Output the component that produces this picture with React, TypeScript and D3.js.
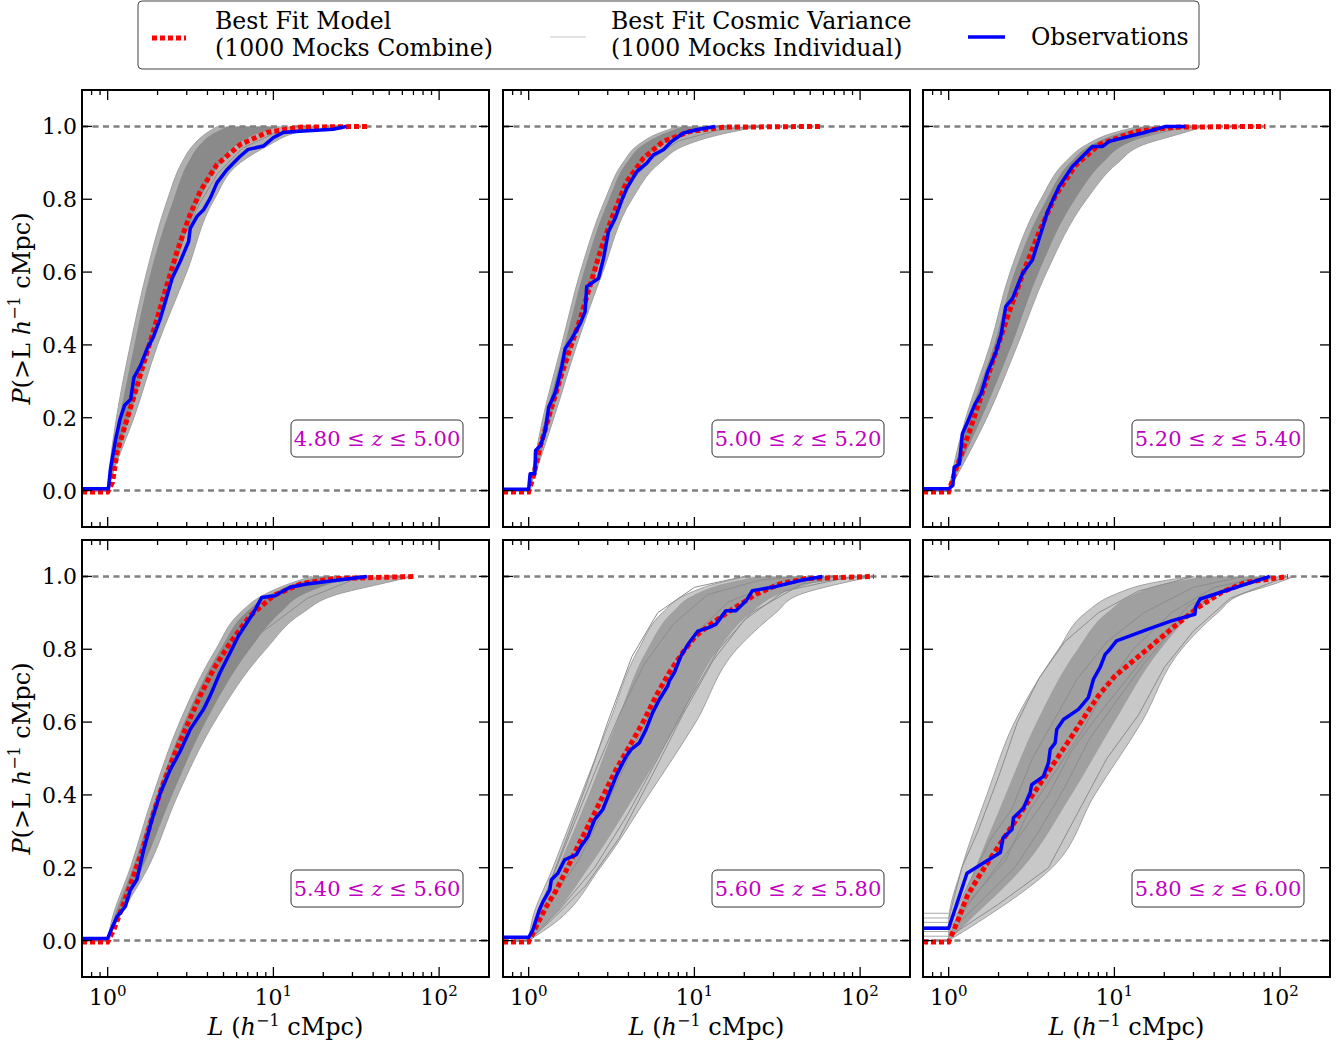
import React from "react";
import * as d3 from "d3";

// redshift bins, one per panel
const zLow = ["4.80", "5.00", "5.20", "5.40", "5.60", "5.80"];
const zHigh = ["5.00", "5.20", "5.40", "5.60", "5.80", "6.00"];

// observed cumulative distributions [L, P]
const obs1 = [[0.7, 0.005], [1.01, 0.005], [1.04, 0.06], [1.12, 0.143], [1.19, 0.198], [1.265, 0.234], [1.375, 0.25], [1.44, 0.31], [1.58, 0.344], [1.73, 0.39], [1.88, 0.42], [2.08, 0.473], [2.23, 0.519], [2.45, 0.583], [2.74, 0.629], [3.08, 0.684], [3.15, 0.72], [3.46, 0.753], [3.79, 0.771], [4.16, 0.803], [4.56, 0.845], [5.24, 0.881], [6.3, 0.918], [7.05, 0.937], [8.7, 0.946], [9.97, 0.969], [11.4, 0.983], [14.4, 0.987], [22.9, 0.992], [27.5, 1.0]];
const obs2 = [[0.7, 0.004], [1.0, 0.004], [1.02, 0.046], [1.09, 0.046], [1.1, 0.11], [1.18, 0.124], [1.26, 0.165], [1.32, 0.229], [1.45, 0.27], [1.52, 0.307], [1.59, 0.344], [1.66, 0.39], [1.82, 0.417], [2.05, 0.459], [2.19, 0.491], [2.24, 0.56], [2.46, 0.573], [2.64, 0.583], [2.83, 0.638], [3.03, 0.711], [3.33, 0.748], [3.65, 0.798], [3.91, 0.83], [4.49, 0.876], [5.16, 0.899], [5.66, 0.922], [6.5, 0.936], [7.3, 0.959], [8.6, 0.982], [10.3, 0.991], [13.3, 1.0]];
const obs3 = [[0.7, 0.005], [1.0, 0.005], [1.06, 0.014], [1.08, 0.064], [1.16, 0.073], [1.21, 0.156], [1.3, 0.188], [1.43, 0.234], [1.57, 0.266], [1.72, 0.326], [1.93, 0.381], [2.07, 0.427], [2.21, 0.505], [2.43, 0.528], [2.79, 0.596], [3.2, 0.633], [3.52, 0.693], [3.95, 0.766], [4.64, 0.835], [5.58, 0.89], [7.37, 0.945], [8.5, 0.945], [9.3, 0.959], [14.8, 0.982], [20.4, 1.0], [26.9, 1.0]];
const obs4 = [[0.7, 0.006], [1.0, 0.006], [1.06, 0.034], [1.14, 0.066], [1.28, 0.094], [1.37, 0.139], [1.5, 0.167], [1.65, 0.25], [1.85, 0.332], [2.08, 0.406], [2.39, 0.47], [2.74, 0.52], [3.15, 0.58], [3.79, 0.635], [4.15, 0.672], [4.77, 0.736], [5.49, 0.791], [6.16, 0.837], [7.6, 0.901], [8.5, 0.942], [10.2, 0.947], [12.6, 0.97], [15.9, 0.979], [22.9, 0.988], [36.6, 1.0]];
const obs5 = [[0.7, 0.009], [1.0, 0.009], [1.06, 0.029], [1.16, 0.084], [1.22, 0.107], [1.34, 0.139], [1.37, 0.167], [1.5, 0.185], [1.65, 0.222], [1.94, 0.236], [2.07, 0.259], [2.28, 0.286], [2.5, 0.332], [2.8, 0.36], [3.07, 0.406], [3.37, 0.451], [3.61, 0.479], [3.88, 0.506], [4.15, 0.525], [4.66, 0.543], [5.11, 0.58], [5.6, 0.626], [6.15, 0.662], [6.9, 0.699], [7.06, 0.713], [7.57, 0.736], [8.3, 0.782], [9.3, 0.818], [10.5, 0.85], [12.3, 0.86], [13.5, 0.869], [15.5, 0.906], [17.8, 0.906], [20.5, 0.933], [22.4, 0.961], [29.6, 0.97], [42.9, 0.988], [59.2, 1.0]];
const obs6 = [[0.7, 0.034], [1.0, 0.034], [1.29, 0.185], [2.05, 0.242], [2.13, 0.282], [2.41, 0.305], [2.46, 0.337], [2.83, 0.364], [3.1, 0.406], [3.17, 0.428], [3.73, 0.451], [4.0, 0.488], [4.1, 0.525], [4.39, 0.543], [4.49, 0.58], [4.93, 0.607], [6.07, 0.635], [6.96, 0.667], [7.47, 0.717], [8.2, 0.75], [8.8, 0.786], [9.2, 0.795], [10.3, 0.823], [16.0, 0.855], [22.1, 0.878], [30.6, 0.896], [30.9, 0.915], [32.9, 0.938], [86.6, 1.0]];

// best fit model (1000 mocks combined) [L, P]
const model1 = [[0.7, -0.004], [1.0, -0.004], [1.07, 0.023], [1.14, 0.105], [1.31, 0.197], [1.51, 0.289], [1.73, 0.381], [1.99, 0.473], [2.28, 0.565], [2.62, 0.656], [3.08, 0.748], [3.62, 0.822], [4.56, 0.895], [6.3, 0.95], [9.1, 0.983], [14.4, 0.998], [38, 1.0]];
const model2 = [[0.7, -0.004], [1.0, -0.004], [1.07, 0.041], [1.18, 0.124], [1.35, 0.216], [1.55, 0.307], [1.78, 0.39], [2.05, 0.472], [2.35, 0.564], [2.7, 0.656], [3.17, 0.748], [3.91, 0.849], [4.93, 0.913], [6.5, 0.959], [9.4, 0.986], [14.9, 0.998], [59.7, 1.0]];
const model3 = [[0.7, -0.004], [1.0, -0.004], [1.11, 0.06], [1.33, 0.16], [1.6, 0.27], [1.93, 0.381], [2.32, 0.491], [2.86, 0.606], [3.52, 0.711], [4.43, 0.812], [5.85, 0.894], [8.1, 0.95], [13.4, 0.986], [23.5, 0.998], [81.6, 1.0]];
const model4 = [[0.7, -0.004], [1.0, -0.004], [1.09, 0.03], [1.25, 0.103], [1.43, 0.176], [1.65, 0.259], [1.89, 0.35], [2.17, 0.433], [2.5, 0.506], [3.0, 0.589], [3.61, 0.672], [4.35, 0.745], [5.49, 0.818], [7.24, 0.892], [10.0, 0.947], [14.5, 0.979], [23, 0.994], [72.7, 1.0]];
const model5 = [[0.7, -0.004], [1.0, -0.004], [1.11, 0.039], [1.28, 0.094], [1.47, 0.139], [1.69, 0.194], [1.98, 0.259], [2.33, 0.323], [2.8, 0.396], [3.37, 0.47], [4.06, 0.534], [4.88, 0.598], [5.87, 0.672], [7.06, 0.736], [8.5, 0.791], [10.2, 0.837], [12.9, 0.873], [17.0, 0.91], [23.5, 0.951], [32.5, 0.979], [47, 0.994], [121, 1.0]];
const model6 = [[0.7, -0.004], [1.0, -0.004], [1.12, 0.048], [1.29, 0.121], [1.52, 0.176], [1.82, 0.231], [2.19, 0.286], [2.64, 0.341], [3.17, 0.396], [3.82, 0.451], [4.6, 0.506], [5.53, 0.561], [6.65, 0.617], [8.0, 0.672], [10.1, 0.727], [13.3, 0.772], [17.6, 0.818], [23.2, 0.864], [32.0, 0.915], [44.3, 0.956], [61.3, 0.983], [111.6, 1.0]];

// spread of the individual mocks: L reached at each P level
const pLevels = [0, 0.05, 0.2, 0.4, 0.6, 0.8, 0.9, 0.95, 0.98, 1.0];
const band1Lo = [1.0, 1.02, 1.13, 1.37, 1.72, 2.3, 2.8, 3.3, 3.9, 4.6];
const band1Hi = [1.0, 1.08, 1.44, 2.0, 3.0, 4.4, 6.3, 9.5, 13, 19];
const core1Lo = [1.0, 1.04, 1.18, 1.45, 1.82, 2.5, 3.05, 3.6, 4.3, 5.3];
const core1Hi = [1.0, 1.06, 1.35, 1.8, 2.5, 3.6, 4.8, 6.0, 8.0, 11];
const band2Lo = [1.0, 1.05, 1.22, 1.58, 2.05, 2.9, 3.7, 4.6, 6.0, 8.0];
const band2Hi = [1.0, 1.1, 1.42, 1.95, 2.8, 4.2, 6.2, 9.0, 15, 25];
const core2Lo = [1.0, 1.06, 1.26, 1.65, 2.15, 3.05, 3.9, 4.9, 6.5, 8.5];
const core2Hi = [1.0, 1.09, 1.36, 1.82, 2.55, 3.7, 4.9, 6.3, 8.5, 12];
const band3Lo = [1.0, 1.05, 1.27, 1.78, 2.35, 3.6, 5.0, 6.8, 9.5, 14];
const band3Hi = [1.0, 1.15, 1.7, 2.6, 3.9, 6.8, 10.5, 15, 25, 35];
const core3Lo = [1.0, 1.07, 1.32, 1.88, 2.5, 3.9, 5.4, 7.3, 10.5, 15];
const core3Hi = [1.0, 1.12, 1.58, 2.4, 3.5, 5.8, 8.5, 11.5, 17, 24];
const band4Lo = [1.0, 1.05, 1.37, 1.88, 2.72, 4.5, 6.3, 8.8, 12.5, 17];
const band4Hi = [1.0, 1.13, 1.75, 2.65, 4.4, 9.0, 15, 24, 45, 70];
const core4Lo = [1.0, 1.07, 1.42, 1.98, 2.9, 4.8, 6.8, 9.5, 13.5, 19];
const core4Hi = [1.0, 1.11, 1.62, 2.45, 3.9, 7.2, 11, 15, 22, 30];
const band5Lo = [1.0, 1.04, 1.4, 2.07, 3.07, 4.6, 6.4, 8.9, 13.5, 21];
const band5Hi = [1.0, 1.45, 2.7, 5.3, 10.2, 18, 31, 43, 75, 120];
const core5Lo = [1.0, 1.06, 1.5, 2.3, 3.4, 5.2, 7.3, 10, 15, 24];
const core5Hi = [1.0, 1.3, 2.3, 4.4, 8.0, 14, 22, 32, 50, 75];
const band6Lo = [1.0, 1.0, 1.2, 1.7, 2.5, 4.6, 6.7, 10, 16, 29];
const band6Hi = [1.0, 1.5, 4.2, 7.6, 14.6, 25.4, 42, 58, 93, 122];
const core6Lo = [1.0, 1.08, 1.45, 2.2, 3.4, 6.0, 9, 13, 20, 35];
const core6Hi = [1.0, 1.3, 2.8, 5.5, 10, 19, 30, 42, 62, 90];

// a few individual mocks that stand out of the bundle [L, P]
const mocks1 = [
  [[1, 0], [1.15, 0.1], [1.4, 0.25], [1.8, 0.42], [2.3, 0.58], [2.9, 0.7], [3.6, 0.79], [4.6, 0.87], [6.5, 0.94], [10, 0.98], [18, 1.0]],
];
const mocks2 = [
  [[1, 0], [1.2, 0.15], [1.6, 0.35], [2.2, 0.55], [3, 0.72], [4, 0.84], [5.5, 0.91], [8, 0.96], [14, 0.99], [22, 1.0]],
];
const mocks3 = [
  [[1, 0], [1.3, 0.15], [1.9, 0.33], [2.7, 0.5], [3.8, 0.66], [5.5, 0.8], [8, 0.9], [12, 0.96], [22, 0.99], [32, 1.0]],
];
const mocks4 = [
  [[1, 0], [1.3, 0.12], [1.8, 0.3], [2.5, 0.47], [3.5, 0.62], [5, 0.74], [7, 0.82], [10, 0.87], [16, 0.94], [30, 0.99], [60, 1]],
  [[1, 0], [1.25, 0.12], [1.7, 0.3], [2.4, 0.48], [3.3, 0.64], [4.8, 0.78], [7, 0.88], [11, 0.94], [20, 0.98], [40, 1]],
];
const mocks5 = [
  [[1, 0], [1.2, 0.1], [1.6, 0.25], [2.2, 0.42], [3, 0.6], [4.2, 0.78], [6, 0.9], [10, 0.97], [20, 1.0]],
  [[1, 0], [1.5, 0.08], [2.5, 0.2], [4, 0.35], [6, 0.5], [9, 0.65], [14, 0.8], [22, 0.9], [45, 0.98], [100, 1.0]],
  [[1, 0], [1.3, 0.1], [2, 0.22], [3, 0.38], [4.5, 0.55], [6.5, 0.7], [10, 0.84], [16, 0.93], [35, 0.99], [60, 1]],
  [[1, 0], [1.4, 0.06], [2.2, 0.15], [3.5, 0.28], [5.5, 0.45], [8.5, 0.62], [13, 0.77], [20, 0.88], [35, 0.96], [90, 1.0]],
  [[1, 0], [1.25, 0.12], [1.8, 0.3], [2.6, 0.48], [3.6, 0.63], [5, 0.76], [7.5, 0.87], [12, 0.95], [25, 0.99], [45, 1]],
];
const mocks6 = [
  [[1.0, 0.06], [1.2, 0.2], [1.5, 0.3], [2.0, 0.45], [2.6, 0.6], [3.5, 0.72], [5, 0.82], [8, 0.9], [14, 0.96], [30, 1.0]],
  [[1.0, 0.02], [1.5, 0.1], [2.5, 0.2], [3.5, 0.3], [5, 0.42], [7, 0.55], [10, 0.65], [15, 0.76], [25, 0.88], [45, 0.96], [100, 1.0]],
  [[1.0, 0.04], [1.3, 0.15], [1.8, 0.28], [2.4, 0.36], [3.2, 0.5], [4.5, 0.62], [6, 0.72], [9, 0.82], [15, 0.9], [30, 0.97], [60, 1.0]],
  [[1.0, 0.01], [2, 0.1], [4, 0.2], [6, 0.35], [9, 0.5], [14, 0.62], [20, 0.75], [30, 0.85], [50, 0.94], [110, 1.0]],
  [[1.0, 0.05], [1.4, 0.12], [2.2, 0.22], [3, 0.35], [4.2, 0.45], [6.5, 0.58], [9, 0.7], [13, 0.8], [22, 0.9], [40, 0.97], [80, 1.0]],
  [[1.0, 0.03], [1.6, 0.15], [2.8, 0.3], [4, 0.4], [5.5, 0.52], [8, 0.62], [12, 0.72], [18, 0.82], [28, 0.92], [60, 0.99], [90, 1.0]],
];

// P of the flat mock lines below L = 1
const floor1 = [0];
const floor6 = [0.012, 0.025, 0.038, 0.05, 0.062, 0.075];

const yTicks = [0, 0.2, 0.4, 0.6, 0.8, 1.0];

const panels = [
  { obs: obs1, model: model1, bandLo: band1Lo, bandHi: band1Hi, coreLo: core1Lo, coreHi: core1Hi, mocks: mocks1, floor: floor1 },
  { obs: obs2, model: model2, bandLo: band2Lo, bandHi: band2Hi, coreLo: core2Lo, coreHi: core2Hi, mocks: mocks2, floor: floor1 },
  { obs: obs3, model: model3, bandLo: band3Lo, bandHi: band3Hi, coreLo: core3Lo, coreHi: core3Hi, mocks: mocks3, floor: floor1 },
  { obs: obs4, model: model4, bandLo: band4Lo, bandHi: band4Hi, coreLo: core4Lo, coreHi: core4Hi, mocks: mocks4, floor: floor1 },
  { obs: obs5, model: model5, bandLo: band5Lo, bandHi: band5Hi, coreLo: core5Lo, coreHi: core5Hi, mocks: mocks5, floor: floor1 },
  { obs: obs6, model: model6, bandLo: band6Lo, bandHi: band6Hi, coreLo: core6Lo, coreHi: core6Hi, mocks: mocks6, floor: floor6 },
];

const colLeft = [82, 503, 923];
const rowTop = [90, 540];
const pw = 407;
const ph = 437;
const font = "DejaVu Serif";
const magenta = "#bf00bf";

const Panel = ({ i }: { i: number }) => {
  const p = panels[i];
  const col = i % 3;
  const row = Math.floor(i / 3);
  const left = colLeft[col];
  const top = rowTop[row];
  const x = d3.scaleLog().domain([0.7, 200]).range([left, left + pw]);
  const y = d3.scaleLinear().domain([-0.1, 1.1]).range([top + ph, top]);
  const line = d3.line<number[]>().x(d => x(d[0])).y(d => y(d[1]));
  const band = (lo: number[], hi: number[]) =>
    d3.area<number>()
      .y(k => y(pLevels[k]))
      .x0(k => x(lo[k]))
      .x1(k => x(hi[k]))
      .curve(d3.curveMonotoneY)(d3.range(pLevels.length));
  const edge = (arr: number[]) =>
    d3.line<number>().x(k => x(arr[k])).y(k => y(pLevels[k])).curve(d3.curveMonotoneY)(d3.range(pLevels.length));
  const xt = x.ticks();
  const isMajor = (v: number) => Math.abs(Math.log10(v) - Math.round(Math.log10(v))) < 1e-6;
  const clipId = "clip" + i;
  const wide = i >= 4;
  const boxW = 172, boxH = 37;
  const boxX = left + pw - 26 - boxW;
  const boxY = y(0.143) - boxH / 2;
  return (
    <g>
      <defs>
        <clipPath id={clipId}>
          <rect x={left} y={top} width={pw} height={ph} />
        </clipPath>
      </defs>
      <g clipPath={`url(#${clipId})`}>
        <path d={band(p.bandLo, p.bandHi) || ""} fill={wide ? "#c8c8c8" : "#b0b0b0"} />
        <path d={band(p.coreLo, p.coreHi) || ""} fill={wide ? "#a0a0a0" : "#8a8a8a"} />
        <path d={edge(p.bandLo) || ""} fill="none" stroke="#a0a0a0" strokeWidth={1} />
        <path d={edge(p.bandHi) || ""} fill="none" stroke="#a0a0a0" strokeWidth={1} />
        {p.mocks.map((m, k) => (
          <path key={k} d={line(m) || ""} fill="none" stroke="#8c8c8c" strokeWidth={1} />
        ))}
        {p.floor.map((f, k) => (
          <path key={k} d={line([[0.7, f], [1.0, f], [1.05, f + 0.01]]) || ""} fill="none" stroke="#a8a8a8" strokeWidth={1} />
        ))}
        <line x1={left} x2={left + pw} y1={y(0)} y2={y(0)} stroke="#808080" strokeWidth={2.5} strokeDasharray="6,4.5" />
        <line x1={left} x2={left + pw} y1={y(1)} y2={y(1)} stroke="#808080" strokeWidth={2.5} strokeDasharray="6,4.5" />
        <path d={line(p.model) || ""} fill="none" stroke="#ff0000" strokeWidth={5} strokeDasharray="5,3" />
        <path d={line(p.obs) || ""} fill="none" stroke="#0000ff" strokeWidth={3.5} strokeLinejoin="round" />
      </g>
      {xt.map((v, k) => {
        const len = isMajor(v) ? 10 : 5;
        return (
          <g key={k} stroke="#000" strokeWidth={1.3}>
            <line x1={x(v)} x2={x(v)} y1={top + ph} y2={top + ph - len} />
            <line x1={x(v)} x2={x(v)} y1={top} y2={top + len} />
          </g>
        );
      })}
      {yTicks.map((v, k) => (
        <g key={k} stroke="#000" strokeWidth={1.3}>
          <line x1={left} x2={left + 10} y1={y(v)} y2={y(v)} />
          <line x1={left + pw} x2={left + pw - 10} y1={y(v)} y2={y(v)} />
        </g>
      ))}
      <rect x={left} y={top} width={pw} height={ph} fill="none" stroke="#000" strokeWidth={2} />
      {col === 0 && yTicks.map((v, k) => (
        <text key={k} x={left - 5} y={y(v)} dy="0.36em" textAnchor="end" fontFamily={font} fontSize={22}>
          {d3.format(".1f")(v)}
        </text>
      ))}
      {row === 1 && xt.filter(isMajor).map((v, k) => (
        <text key={k} x={x(v)} y={top + ph + 28} textAnchor="middle" fontFamily={font} fontSize={22}>
          10<tspan dy={-9} fontSize={15}>{Math.round(Math.log10(v))}</tspan>
        </text>
      ))}
      {row === 1 && (
        <text x={left + pw / 2} y={top + ph + 58} textAnchor="middle" fontFamily={font} fontSize={24}>
          <tspan fontStyle="italic">L</tspan> (<tspan fontStyle="italic">h</tspan>
          <tspan dy={-9} fontSize={16}>−1</tspan>
          <tspan dy={9}> cMpc)</tspan>
        </text>
      )}
      {col === 0 && (
        <text transform={`translate(30,${top + ph / 2}) rotate(-90)`} textAnchor="middle" fontFamily={font} fontSize={24}>
          <tspan fontStyle="italic">P</tspan>(&gt;L <tspan fontStyle="italic">h</tspan>
          <tspan dy={-10} fontSize={16}>−1</tspan>
          <tspan dy={10}> cMpc)</tspan>
        </text>
      )}
      <rect x={boxX} y={boxY} width={boxW} height={boxH} rx={5} fill="#fff" stroke="#333" strokeWidth={1} />
      <text x={boxX + boxW / 2} y={boxY + boxH / 2} dy="0.36em" textAnchor="middle" fontFamily={font} fontSize={21} fill={magenta}>
        {zLow[i]} ≤ <tspan fontStyle="italic">z</tspan> ≤ {zHigh[i]}
      </text>
    </g>
  );
};

const Legend = () => (
  <g fontFamily={font} fontSize={23.6}>
    <rect x={138} y={1} width={1061} height={68} rx={4} fill="#fff" stroke="#444" strokeWidth={1} />
    <line x1={152} x2={186} y1={38} y2={38} stroke="#ff0000" strokeWidth={5} strokeDasharray="5,3" />
    <text x={215} y={29}>Best Fit Model</text>
    <text x={215} y={56}>(1000 Mocks Combine)</text>
    <line x1={550} x2={586} y1={37} y2={37} stroke="#c8c8c8" strokeWidth={1.2} />
    <text x={611} y={29}>Best Fit Cosmic Variance</text>
    <text x={611} y={56}>(1000 Mocks Individual)</text>
    <line x1={968} x2={1005} y1={37} y2={37} stroke="#0000ff" strokeWidth={3.5} />
    <text x={1031} y={45}>Observations</text>
  </g>
);

const App = () => (
  <svg width={1344} height={1043} style={{ display: "block", position: "absolute", left: 0, top: 0 }}>
    <rect width={1344} height={1043} fill="#fff" />
    {panels.map((_, i) => <Panel key={i} i={i} />)}
    <Legend />
  </svg>
);

export default App;
